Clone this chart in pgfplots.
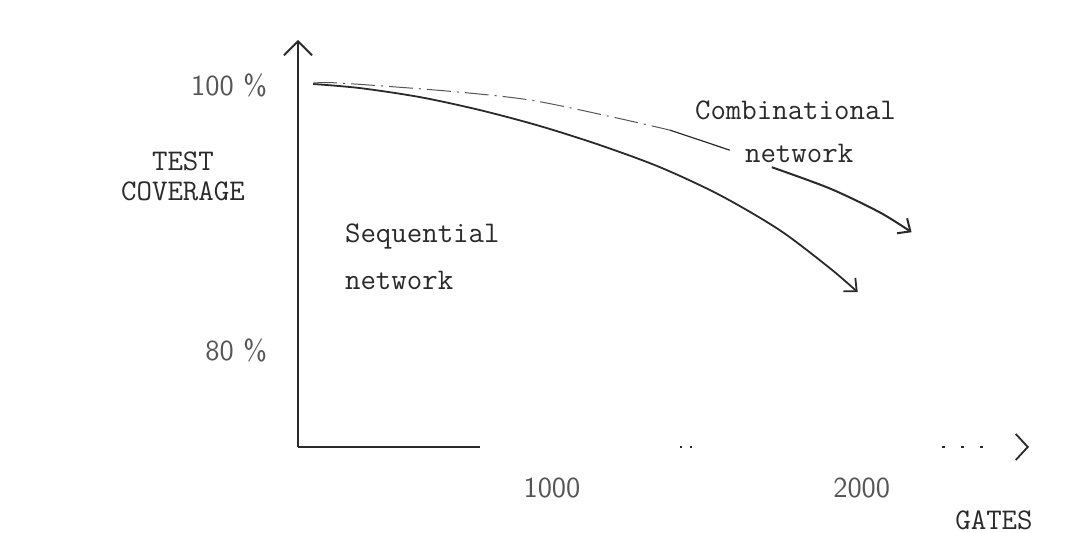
\documentclass[border=0pt]{standalone}
\usepackage{pgfplots}
\pgfplotsset{compat=1.18}
\usetikzlibrary{arrows.meta}
\definecolor{ink}{HTML}{2A2A2A}
\definecolor{inkl}{HTML}{555555}
\begin{document}
\begin{tikzpicture}
\useasboundingbox (-149pt,-43pt) rectangle (389.5pt,223.5pt);
\begin{axis}[
  at={(0pt,0pt)}, anchor=south west,
  scale only axis, width=365.5pt, height=203.5pt,
  xmin=180, xmax=2540, ymin=72.7, ymax=103.4,
  axis lines=left,
  x axis line style={ink, line width=0.8pt, -{Straight Barb[length=6pt,width=13pt,line width=0.9pt]},
    dash pattern=on 91pt off 100pt on 1pt off 4pt on 1pt off 125pt on 1.5pt off 8pt on 1.5pt off 8pt on 1.5pt off 30pt},
  y axis line style={ink, line width=0.9pt, -{Straight Barb[length=7pt,width=14pt,line width=0.9pt]}},
  major tick length=0pt,
  xtick={1000,2000}, xticklabels={1000,2000},
  ytick={80,100}, yticklabels={80 \%,100 \%},
  /pgf/number format/assume math mode=true,
  tick label style={font=\fontsize{14.5}{16}\selectfont\sffamily, text=inkl},
  xticklabel style={anchor=north, yshift=-12pt},
  yticklabel style={anchor=east, xshift=-12pt},
  clip=false,
]
% Sequential network
\addplot[ink, line width=0.9pt, smooth, tension=0.5, -{Straight Barb[length=5pt,width=9pt]}] coordinates {
 (229,100.08) (381,99.77) (574,99.09) (768,98.11) (961,96.91) (1155,95.47) (1348,93.81) (1542,91.70) (1735,89.06) (1897,86.19) (1987,84.38)};
% Combinational network (dash-dot part)
\addplot[inkl, line width=0.5pt, smooth, tension=0.5, dash pattern=on 12pt off 3pt on 1pt off 3pt] coordinates {
 (229,100.15) (316,100.15) (661,99.55) (929,98.87) (1197,97.58) (1381,96.6)};
\addplot[ink, line width=0.6pt] coordinates {(1381,96.6) (1574,95.09)};
\addplot[ink, line width=1pt, smooth, tension=0.5, -{Straight Barb[length=5pt,width=9pt]}] coordinates {
 (1710,93.8) (1897,92.2) (2058,90.4) (2161,88.9)};
\end{axis}
\begin{scope}[font=\fontsize{15}{17}\selectfont\ttfamily, text=ink]
\node at (-57.5pt,143pt) {TEST};
\node at (-57.5pt,128pt) {COVERAGE};
\node at (348pt,-36.5pt) {GATES};
\node[anchor=west] at (20pt,105.5pt) {Sequential};
\node[anchor=west] at (20pt,83.5pt) {network};
\node[anchor=west] at (195pt,168.5pt) {Combinational};
\node[anchor=west] at (220pt,147pt) {network};
\end{scope}
\end{tikzpicture}
\end{document}
